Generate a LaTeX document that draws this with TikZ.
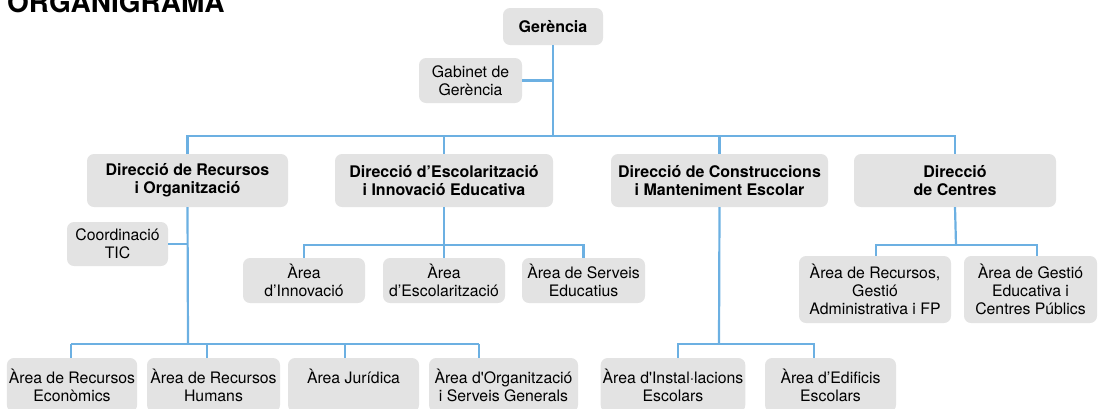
\documentclass[tikz,border=0pt]{standalone}
\usepackage{fontspec}
\setmainfont{TeX Gyre Heros}
\usetikzlibrary{positioning, calc}
\definecolor{linkblue}{RGB}{108,176,226}
\definecolor{boxgray}{RGB}{227,227,227}

\begin{document}
\begin{tikzpicture}[x=1pt, y=-1pt,
    boxsize/.style 2 args={minimum width=#1pt, minimum height=#2pt},
    unitbox/.style={fill=boxgray, rounded corners=7pt, inner sep=2pt, align=center, font=\fontsize{15.8}{18}\selectfont},
    dirbox/.style={unitbox, font=\fontsize{16}{18}\selectfont\bfseries},
    link/.style={draw=linkblue, line width=2.2pt}
]
\useasboundingbox (0,0) rectangle (1099,408);

% Title
\node[anchor=base west, inner sep=0pt, font=\fontsize{28}{30}\selectfont\bfseries] (title) at (7,12) {ORGANIGRAMA};

% Top level
\node[dirbox, boxsize={100}{37}] (ger) at (553,26.5) {Gerència};
\node[unitbox, boxsize={103}{45}] (gab) at (470.5,80.5) {Gabinet de\\Gerència};

% Direccions
\node[dirbox, boxsize={201}{53}] (dirRec) at (187.5,180.5) {Direcció de Recursos\\i Organització};
\node[dirbox, boxsize={218}{53}] (dirEsc) at (444,180.5) {Direcció d’Escolarització\\i Innovació Educativa};
\node[dirbox, boxsize={217}{53}] (dirCon) at (719.5,180.5) {Direcció de Construccions\\i Manteniment Escolar};
\node[dirbox, boxsize={202}{53}] (dirCen) at (955,180.5) {Direcció\\de Centres};

% Middle row
\node[unitbox, boxsize={101}{44}] (coord) at (117.5,244) {Coordinació\\TIC};
\node[unitbox, boxsize={122}{45}] (aInn) at (304,280.5) {Àrea\\d’Innovació};
\node[unitbox, boxsize={122}{45}] (aEsc) at (444,280.5) {Àrea\\d’Escolarització};
\node[unitbox, boxsize={123}{45}] (aSer) at (583.5,280.5) {Àrea de Serveis\\Educatius};
\node[unitbox, boxsize={152}{67}] (aRFP) at (875,289.5) {Àrea de Recursos,\\Gestió\\Administrativa i FP};
\node[unitbox, boxsize={133}{67}] (aGes) at (1030.5,289.5) {Àrea de Gestió\\Educativa i\\Centres Públics};

% Bottom row
\node[unitbox, boxsize={130}{54}] (aEco) at (72,385) {Àrea de Recursos\\Econòmics};
\node[unitbox, boxsize={133}{54}] (aHum) at (213.5,385) {Àrea de Recursos\\Humans};
\node[unitbox, boxsize={131}{54}] (aJur) at (353.5,385) {Àrea Jurídica\\\phantom{X}};
\node[unitbox, boxsize={149}{54}] (aOrg) at (503.5,385) {Àrea d\textquotesingle Organització\\i Serveis Generals};
\node[unitbox, boxsize={142}{54}] (aIns) at (673,385) {Àrea d\textquotesingle Instal·lacions\\Escolars};
\node[unitbox, boxsize={131}{54}] (aEdi) at (830.5,385) {Àrea d’Edificis\\Escolars};

% Bus points
\coordinate (topBus) at (553,136);
\coordinate (recBus) at (188,344);
\coordinate (escBus) at (444,245);
\coordinate (conBus) at (719,344);
\coordinate (cenBus) at (956,245);

% Gerència to direccions
\draw[link] (ger.south) -- (topBus);
\draw[link] (gab.east) -- (gab.east -| ger.south);
\draw[link] (dirRec.north) |- (topBus) -| (dirCen.north);
\foreach \d in {dirEsc,dirCon}
    \draw[link] (\d.north) -- (\d.north |- topBus);

% Recursos i Organització
\draw[link] (dirRec.south) -- (recBus);
\draw[link] (coord.east) -- (coord.east -| dirRec.south);
\draw[link] ([xshift=-1]aEco.north |- recBus) -- ([xshift=-24.5]aOrg.north |- recBus);
\foreach \n/\s in {aEco/-1, aHum/-6.5, aJur/-8.5, aOrg/-24.5}
    \draw[link] ([xshift=\s]\n.north) -- ([xshift=\s]\n.north |- recBus);

% Escolarització
\draw[link] (dirEsc.south) -- (aEsc.north);
\draw[link] (aInn.north) |- (escBus) -| (aSer.north);

% Construccions
\draw[link] (dirCon.south) -- (conBus);
\draw[link] ([xshift=5]aIns.north) |- (conBus) -| ([xshift=-16.5]aEdi.north);

% Centres
\draw[link] (dirCen.south) -- (cenBus);
\draw[link] ([xshift=1]aRFP.north) |- (cenBus) -| ([xshift=6.5]aGes.north);
\end{tikzpicture}
\end{document}
